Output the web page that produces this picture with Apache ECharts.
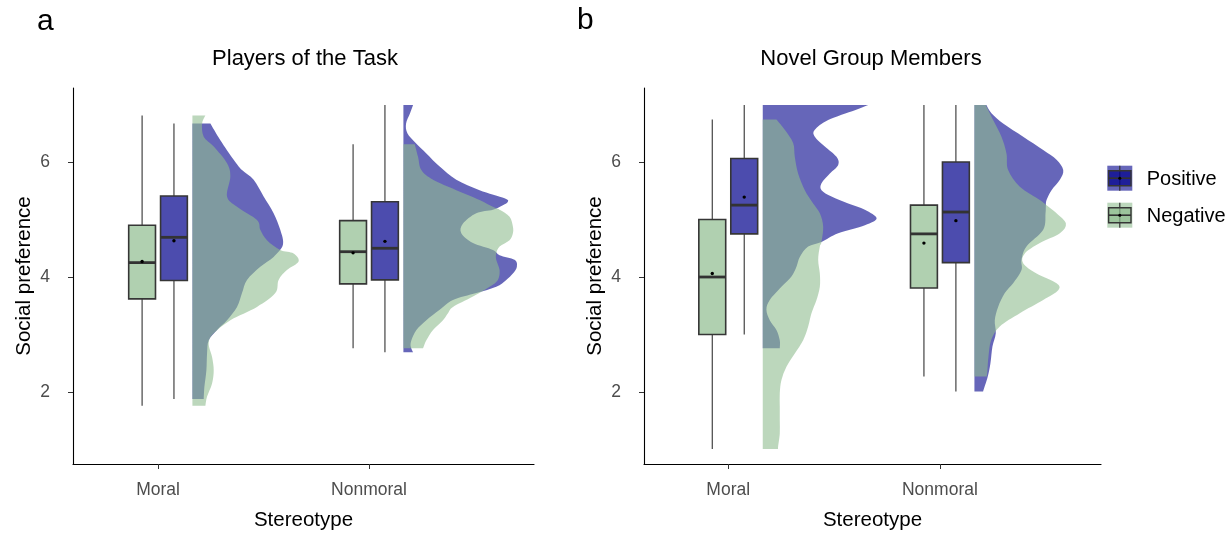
<!DOCTYPE html>
<html><head><meta charset="utf-8">
<script src="https://cdn.jsdelivr.net/npm/echarts@6/dist/echarts.min.js"></script>
<style>html,body{margin:0;padding:0;background:#fff}#chart{width:1232px;height:533px}</style>
</head><body><div id="chart"></div>
<script>
// ---------------- data ----------------
const categories = ['Moral', 'Nonmoral'];
const groups = ['Positive', 'Negative'];
const panelTitles = ['Players of the Task', 'Novel Group Members'];
const panelLetters = ['a', 'b'];
const yTickValues = [2, 4, 6];
const xTickValues = [1, 2];

// box stats per category: [min, q1, median, q3, max]
const playersPositiveBox = [[1.88, 3.94, 4.69, 5.41, 6.67], [2.69, 3.95, 4.50, 5.31, 6.99]];
const playersNegativeBox = [[1.76, 3.62, 4.25, 4.90, 6.81], [2.76, 3.88, 4.44, 4.98, 6.31]];
const playersPositiveMean = [4.63, 4.62];
const playersNegativeMean = [4.27, 4.42];
const novelPositiveBox = [[3.00, 4.75, 5.25, 6.06, 6.99], [2.01, 4.25, 5.13, 6.00, 6.99]];
const novelNegativeBox = [[1.01, 3.00, 4.00, 5.00, 6.74], [2.27, 3.81, 4.75, 5.25, 6.99]];
const novelPositiveMean = [5.39, 4.98];
const novelNegativeMean = [4.06, 4.59];

// half-violin densities: [y, relative density]
const playersPositiveMoralDensity = [[6.67,54],[6.38,84],[6.04,124],[5.86,149],[5.69,184],[5.40,214],[5.11,244],[4.82,264],[4.56,272],[4.35,244],[4.18,204],[3.95,164],[3.72,149],[3.48,134],[3.25,104],[3.08,74],[2.90,49],[2.67,44],[2.38,42],[2.09,36],[1.88,34]];
const playersNegativeMoralDensity = [[6.81,39],[6.67,29],[6.44,34],[6.27,64],[5.98,104],[5.75,114],[5.40,104],[5.22,134],[4.99,194],[4.82,204],[4.64,224],[4.47,264],[4.41,304],[4.27,319],[4.12,284],[3.95,259],[3.72,249],[3.48,194],[3.25,114],[3.02,64],[2.85,49],[2.61,59],[2.38,64],[2.15,59],[1.92,44],[1.76,39]];
const playersPositiveNonmoralDensity = [[6.99,29],[6.85,20],[6.67,8],[6.50,12],[6.33,37],[6.15,69],[5.92,109],[5.69,159],[5.51,229],[5.37,304],[5.31,314],[5.25,299],[5.17,269],[5.11,219],[4.93,179],[4.76,174],[4.59,209],[4.47,269],[4.38,289],[4.30,334],[4.18,341],[4.06,329],[3.95,309],[3.83,279],[3.72,219],[3.60,149],[3.43,109],[3.25,69],[3.08,39],[2.90,24],[2.79,22],[2.69,29]];
const playersNegativeNonmoralDensity = [[6.31,34],[6.09,44],[5.86,54],[5.69,89],[5.51,159],[5.34,229],[5.22,269],[5.17,289],[5.05,319],[4.88,329],[4.76,329],[4.64,319],[4.53,289],[4.41,279],[4.30,279],[4.12,289],[3.95,284],[3.83,259],[3.66,209],[3.48,149],[3.37,134],[3.25,119],[3.08,89],[2.90,69],[2.76,59]];
const novelPositiveMoralDensity = [[6.99,316],[6.90,276],[6.73,196],[6.56,156],[6.44,156],[6.27,186],[6.09,221],[5.95,226],[5.80,201],[5.63,176],[5.51,176],[5.40,206],[5.28,256],[5.17,306],[5.02,341],[4.90,306],[4.76,226],[4.61,176],[4.53,136],[4.35,111],[4.18,101],[4.01,86],[3.83,56],[3.60,21],[3.43,11],[3.25,21],[3.08,41],[2.90,51],[2.76,51]];
const novelNegativeMoralDensity = [[6.74,41],[6.56,66],[6.33,91],[6.09,96],[5.80,106],[5.51,126],[5.28,151],[5.11,171],[4.88,181],[4.61,176],[4.53,171],[4.30,166],[4.06,171],[3.83,171],[3.60,161],[3.37,146],[3.14,136],[2.90,121],[2.67,96],[2.44,71],[2.21,56],[1.98,51],[1.75,51],[1.51,51],[1.28,51],[1.05,46],[1.01,46]];
const novelPositiveNonmoralDensity = [[6.99,36],[6.85,51],[6.67,86],[6.44,146],[6.21,206],[6.04,246],[5.86,266],[5.69,256],[5.51,231],[5.34,216],[5.24,214],[5.11,213],[4.82,206],[4.53,156],[4.30,141],[4.12,141],[3.89,116],[3.72,91],[3.48,71],[3.25,61],[3.02,64],[2.79,54],[2.50,48],[2.27,40],[2.01,26]];
const novelNegativeNonmoralDensity = [[6.99,34],[6.73,56],[6.44,81],[6.15,96],[5.86,101],[5.57,136],[5.34,196],[5.25,216],[5.11,246],[4.93,274],[4.76,256],[4.59,196],[4.41,151],[4.24,146],[4.06,186],[3.89,246],[3.77,251],[3.60,206],[3.37,136],[3.14,76],[2.90,50],[2.61,42],[2.38,39],[2.27,37]];

// ---------------- styling ----------------
const FONT = '"Liberation Sans", Arial, Helvetica, sans-serif';
const BLUE_VIOLIN = 'rgba(0,0,139,0.6)';
const GREEN_VIOLIN = 'rgba(143,188,143,0.6)';
const BLUE_BOX = 'rgba(0,0,139,0.7)';
const GREEN_BOX = 'rgba(143,188,143,0.7)';
const BOX_STROKE = '#363636';
const BOX_OFFSET = 0.0755;
const BOX_WIDTH = 0.127;
const VIOLIN_OFFSET = 0.163;
const DENS_SCALE = 1 / 634;

function buildPath(top, edge, bot) {
  let d = 'M' + top[0] + ',' + top[1] + ' L' + edge[0][0] + ',' + edge[0][1];
  const n = edge.length;
  for (let i = 0; i < n - 1; i++) {
    const p0 = edge[Math.max(i - 1, 0)], p1 = edge[i], p2 = edge[i + 1], p3 = edge[Math.min(i + 2, n - 1)];
    const c1x = p1[0] + (p2[0] - p0[0]) / 6, c1y = p1[1] + (p2[1] - p0[1]) / 6;
    const c2x = p2[0] - (p3[0] - p1[0]) / 6, c2y = p2[1] - (p3[1] - p1[1]) / 6;
    d += ' C' + c1x + ',' + c1y + ' ' + c2x + ',' + c2y + ' ' + p2[0] + ',' + p2[1];
  }
  d += ' L' + bot[0] + ',' + bot[1] + ' Z';
  return d;
}

function violinSeries(panel, cat, dens, fill, z) {
  return {
    type: 'custom', xAxisIndex: panel, yAxisIndex: panel, z: z, silent: true,
    data: [[cat]], encode: { x: 0 },
    renderItem: function (params, api) {
      const base = api.value(0) + VIOLIN_OFFSET;
      const edge = dens.map(function (p) { return api.coord([base + p[1] * DENS_SCALE, p[0]]); });
      const top = api.coord([base, dens[0][0]]);
      const bot = api.coord([base, dens[dens.length - 1][0]]);
      return { type: 'path', shape: { pathData: buildPath(top, edge, bot) }, style: { fill: fill, stroke: null } };
    }
  };
}

function boxSeries(panel, offset, stats, means, fill) {
  return {
    type: 'custom', xAxisIndex: panel, yAxisIndex: panel, z: 5, silent: true,
    data: stats.map(function (s, i) { return [i + 1].concat(s).concat([means[i]]); }),
    encode: { x: 0, y: [1, 5] },
    renderItem: function (params, api) {
      const x = api.value(0) + offset;
      const xc = api.coord([x, api.value(3)])[0];
      const yMin = api.coord([x, api.value(1)])[1];
      const yQ1 = api.coord([x, api.value(2)])[1];
      const yMed = api.coord([x, api.value(3)])[1];
      const yQ3 = api.coord([x, api.value(4)])[1];
      const yMax = api.coord([x, api.value(5)])[1];
      const yMean = api.coord([x, api.value(6)])[1];
      const hw = api.size([BOX_WIDTH, 0])[0] / 2;
      return {
        type: 'group', children: [
          { type: 'line', shape: { x1: xc, y1: yMax, x2: xc, y2: yQ3 }, style: { stroke: '#333', lineWidth: 1.1 } },
          { type: 'line', shape: { x1: xc, y1: yQ1, x2: xc, y2: yMin }, style: { stroke: '#333', lineWidth: 1.1 } },
          { type: 'rect', shape: { x: xc - hw, y: yQ3, width: 2 * hw, height: yQ1 - yQ3 }, style: { fill: fill, stroke: BOX_STROKE, lineWidth: 1.6 } },
          { type: 'line', shape: { x1: xc - hw, y1: yMed, x2: xc + hw, y2: yMed }, style: { stroke: '#333', lineWidth: 2.8 } },
          { type: 'circle', shape: { cx: xc, cy: yMean, r: 1.7 }, style: { fill: '#000' } }
        ]
      };
    }
  };
}

const axisLabelStyle = { color: '#4d4d4d', fontSize: 17.5, fontFamily: FONT };
const nameStyle = { color: '#000', fontSize: 20.5, fontFamily: FONT };

function xAxis(grid, min, max) {
  return {
    type: 'value', gridIndex: grid, min: min, max: max,
    name: 'Stereotype', nameLocation: 'middle', nameGap: 46, nameTextStyle: nameStyle,
    axisLine: { show: true, onZero: false, lineStyle: { color: '#000', width: 1.1 } },
    axisTick: { show: true, length: 5, customValues: xTickValues, lineStyle: { color: '#333', width: 1 } },
    axisLabel: Object.assign({ margin: 17, customValues: xTickValues, formatter: function (v) { return categories[Math.round(v) - 1] || ''; } }, axisLabelStyle),
    splitLine: { show: false }
  };
}
function yAxis(grid) {
  return {
    type: 'value', gridIndex: grid, min: 0.748, max: 7.287,
    name: 'Social preference', nameLocation: 'middle', nameGap: 38, nameTextStyle: nameStyle,
    axisLine: { show: true, onZero: false, lineStyle: { color: '#000', width: 1.1 } },
    axisTick: { show: true, length: 5, customValues: yTickValues, lineStyle: { color: '#333', width: 1 } },
    axisLabel: Object.assign({ margin: 23, customValues: yTickValues, formatter: function (v) { return String(Math.round(v)); } }, axisLabelStyle),
    splitLine: { show: false }
  };
}

function txt(x, y, text, size, align, color) {
  return { type: 'text', x: x, y: y, silent: true, z: 10,
    style: { text: text, font: size + 'px ' + FONT, fill: color || '#000', align: align, textAlign: align, verticalAlign: 'middle', textVerticalAlign: 'middle' } };
}

const legendFills = [[BLUE_VIOLIN, BLUE_BOX], [GREEN_VIOLIN, GREEN_BOX]];
const legendGraphics = [];
groups.forEach(function (g, i) {
  const y0 = 165.7 + i * 37;
  const x0 = 1107.3;
  legendGraphics.push({ type: 'rect', shape: { x: x0, y: y0, width: 25, height: 25 }, style: { fill: legendFills[i][0] }, z: 10 });
  legendGraphics.push({ type: 'line', shape: { x1: x0 + 12.5, y1: y0, x2: x0 + 12.5, y2: y0 + 25 }, style: { stroke: '#333', lineWidth: 1.2 }, z: 11 });
  legendGraphics.push({ type: 'rect', shape: { x: x0 + 1.3, y: y0 + 5, width: 22.4, height: 15 }, style: { fill: legendFills[i][1], stroke: BOX_STROKE, lineWidth: 1.4 }, z: 12 });
  legendGraphics.push({ type: 'line', shape: { x1: x0 + 1.3, y1: y0 + 12.5, x2: x0 + 23.7, y2: y0 + 12.5 }, style: { stroke: '#333', lineWidth: 1.6 }, z: 13 });
  legendGraphics.push({ type: 'circle', shape: { cx: x0 + 12.5, cy: y0 + 12.5, r: 1.5 }, style: { fill: '#000' }, z: 14 });
  legendGraphics.push(txt(1146.7, y0 + 13.8, g, 20, 'left'));
});

const option = {
  backgroundColor: '#fff',
  animation: false,
  grid: [
    { left: 73, top: 88, width: 461, height: 376, containLabel: false, outerBoundsMode: 'none' },
    { left: 644, top: 88, width: 457, height: 376, containLabel: false, outerBoundsMode: 'none' }
  ],
  xAxis: [xAxis(0, 0.597, 2.782), xAxis(1, 0.602, 2.761)],
  yAxis: [yAxis(0), yAxis(1)],
  graphic: [
    txt(37, 21.5, panelLetters[0], 30, 'left'),
    txt(577, 20.5, panelLetters[1], 30, 'left'),
    txt(305, 59, panelTitles[0], 22, 'center'),
    txt(871, 59, panelTitles[1], 22, 'center')
  ].concat(legendGraphics),
  series: [
    violinSeries(0, 1, playersPositiveMoralDensity, BLUE_VIOLIN, 2),
    violinSeries(0, 1, playersNegativeMoralDensity, GREEN_VIOLIN, 3),
    violinSeries(0, 2, playersPositiveNonmoralDensity, BLUE_VIOLIN, 2),
    violinSeries(0, 2, playersNegativeNonmoralDensity, GREEN_VIOLIN, 3),
    violinSeries(1, 1, novelPositiveMoralDensity, BLUE_VIOLIN, 2),
    violinSeries(1, 1, novelNegativeMoralDensity, GREEN_VIOLIN, 3),
    violinSeries(1, 2, novelPositiveNonmoralDensity, BLUE_VIOLIN, 2),
    violinSeries(1, 2, novelNegativeNonmoralDensity, GREEN_VIOLIN, 3),
    boxSeries(0, -BOX_OFFSET, playersNegativeBox, playersNegativeMean, GREEN_BOX),
    boxSeries(0, BOX_OFFSET, playersPositiveBox, playersPositiveMean, BLUE_BOX),
    boxSeries(1, -BOX_OFFSET, novelNegativeBox, novelNegativeMean, GREEN_BOX),
    boxSeries(1, BOX_OFFSET, novelPositiveBox, novelPositiveMean, BLUE_BOX)
  ]
};
const chart = echarts.init(document.getElementById('chart'), null, { renderer: 'canvas', width: 1232, height: 533 });
chart.setOption(option);
</script>
</body></html>
